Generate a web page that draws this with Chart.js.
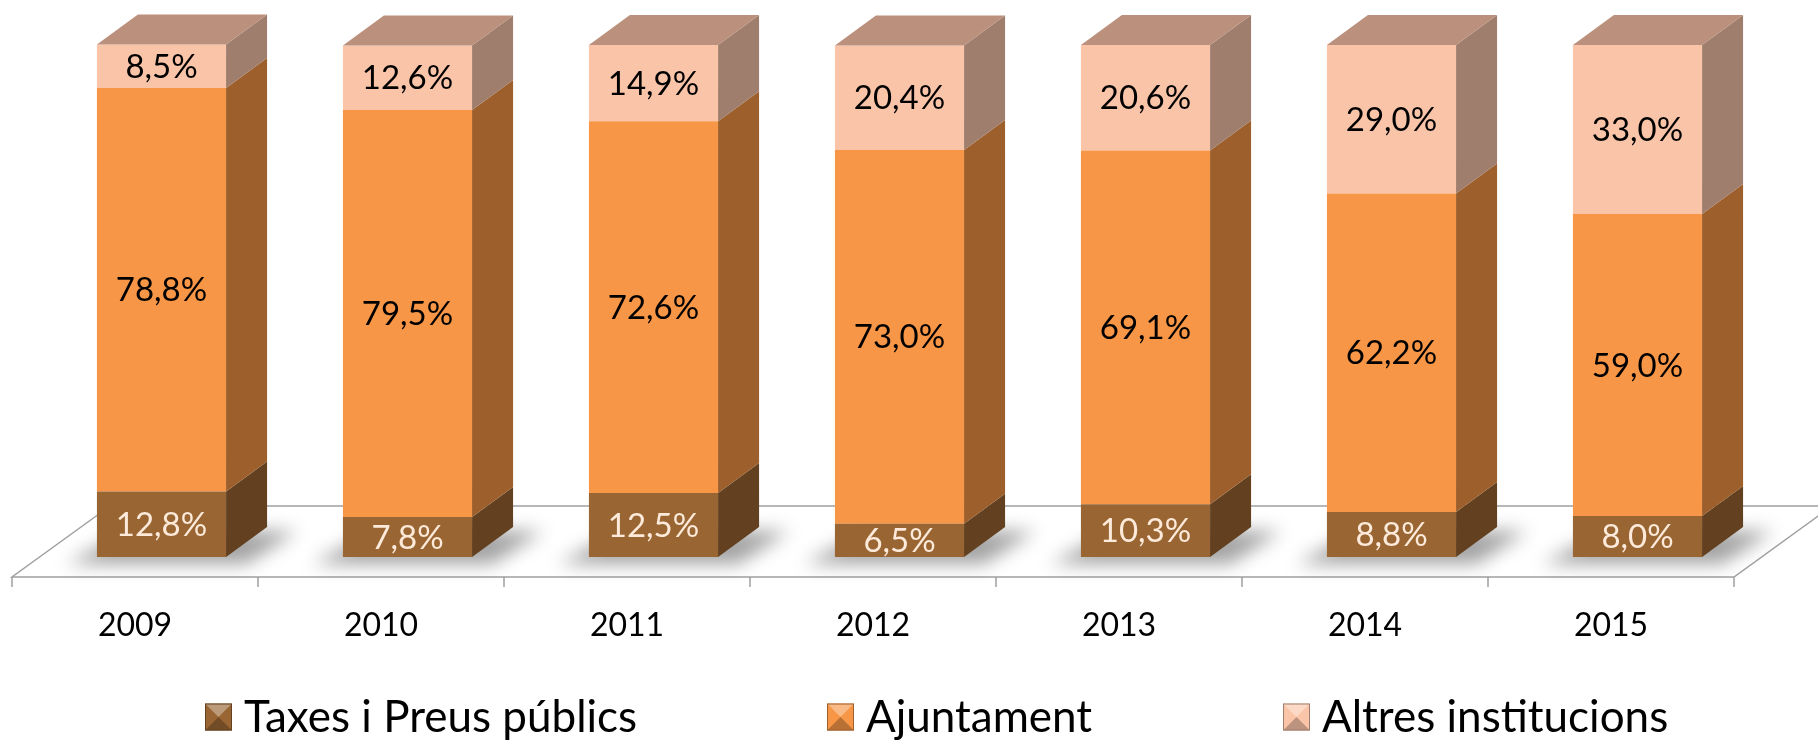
<!DOCTYPE html>
<html>
<head>
<meta charset="utf-8">
<script src="https://cdn.jsdelivr.net/npm/chart.js@4.4.1/dist/chart.umd.min.js"></script>
<style>
  html, body { margin: 0; padding: 0; background: #fff; }
  #wrap { width: 1818px; height: 740px; }
</style>
</head>
<body>
<div id="wrap"><canvas id="chart"></canvas></div>
<script>
const years = ["2009", "2010", "2011", "2012", "2013", "2014", "2015"];
const taxes = [12.8, 7.8, 12.5, 6.5, 10.3, 8.8, 8.0];
const ajuntament = [78.8, 79.5, 72.6, 73.0, 69.1, 62.2, 59.0];
const altres = [8.5, 12.6, 14.9, 20.4, 20.6, 29.0, 33.0];
const seriesNames = ["Taxes i Preus públics", "Ajuntament", "Altres institucions"];

const FONT = "Lato, 'Open Sans', sans-serif";
// oblique 3D look
const DEPTH_X = 41, DEPTH_Y = 30;
const FLOOR_FRONT = 20, FLOOR_DEPTH = 71, FLOOR_DX = 98;
const LABEL_SHIFT = 26.5;

const faces = [
  { front: "#996633", side: "#634120", top: "#7d5229", label: "#fdeada" },
  { front: "#f79646", side: "#9d5f2b", top: "#c47a3a", label: "#000000" },
  { front: "#fac4a9", side: "#a07e6d", top: "#bb907c", label: "#000000" }
];

function poly(ctx, pts) {
  ctx.beginPath();
  ctx.moveTo(pts[0][0], pts[0][1]);
  for (let i = 1; i < pts.length; i++) ctx.lineTo(pts[i][0], pts[i][1]);
  ctx.closePath();
  ctx.fill();
}

const floorPlugin = {
  id: "floor",
  beforeDatasetsDraw(chart) {
    const ctx = chart.ctx, xs = chart.scales.x, area = chart.chartArea;
    const left = xs.left - LABEL_SHIFT, right = xs.right - LABEL_SHIFT;
    const fy = area.bottom + FLOOR_FRONT, by = fy - FLOOR_DEPTH;
    ctx.save();
    ctx.strokeStyle = "#a0a0a0";
    ctx.lineWidth = 1.5;
    ctx.beginPath();
    ctx.moveTo(left + FLOOR_DX, by);
    ctx.lineTo(left, fy);
    ctx.lineTo(right, fy);
    ctx.lineTo(right + FLOOR_DX, by);
    ctx.moveTo(left + FLOOR_DX, by);
    ctx.lineTo(chart.width + 20, by);
    const step = (right - left) / years.length;
    for (let k = 0; k <= years.length; k++) {
      ctx.moveTo(left + k * step, fy);
      ctx.lineTo(left + k * step, fy + 10);
    }
    ctx.stroke();

    // soft shadows on the floor
    ctx.filter = "blur(9px)";
    ctx.fillStyle = "rgba(0,0,0,0.36)";
    chart.getDatasetMeta(0).data.forEach(el => {
      const xl = el.x - el.width / 2, xr = el.x + el.width / 2, b = el.base;
      poly(ctx, [[xl - 30, b + 7], [xl - 10 + DEPTH_X, b - DEPTH_Y + 4],
                 [xr + DEPTH_X + 30, b - DEPTH_Y + 4], [xr + 20, b + 7]]);
    });
    ctx.filter = "none";
    ctx.restore();
  }
};

const boxPlugin = {
  id: "box3d",
  afterDatasetsDraw(chart) {
    const ctx = chart.ctx;
    ctx.save();
    const last = chart.data.datasets.length - 1;
    chart.data.datasets.forEach((ds, i) => {
      const meta = chart.getDatasetMeta(i);
      meta.data.forEach(el => {
        const xl = el.x - el.width / 2, xr = el.x + el.width / 2;
        const yt = Math.min(el.y, el.base), yb = Math.max(el.y, el.base);
        ctx.fillStyle = faces[i].side;
        poly(ctx, [[xr, yb], [xr, yt], [xr + DEPTH_X, yt - DEPTH_Y], [xr + DEPTH_X, yb - DEPTH_Y]]);
        if (i === last) {
          ctx.fillStyle = faces[i].top;
          poly(ctx, [[xl, yt], [xl + DEPTH_X, yt - DEPTH_Y], [xr + DEPTH_X, yt - DEPTH_Y], [xr, yt]]);
        }
      });
    });
    // value labels
    ctx.font = "33px " + FONT;
    ctx.textAlign = "center";
    ctx.textBaseline = "middle";
    chart.data.datasets.forEach((ds, i) => {
      chart.getDatasetMeta(i).data.forEach((el, j) => {
        ctx.fillStyle = faces[i].label;
        const txt = ds.data[j].toFixed(1).replace(".", ",") + "%";
        ctx.fillText(txt, el.x, (el.y + el.base) / 2 + 1);
      });
    });
    ctx.restore();
  }
};

const legendPlugin = {
  id: "legend3d",
  afterDraw(chart) {
    const ctx = chart.ctx;
    const starts = [205, 827, 1283];
    const cy = 717, s = 27;
    ctx.save();
    ctx.font = "44px " + FONT;
    ctx.textBaseline = "middle";
    ctx.textAlign = "left";
    chart.data.datasets.forEach((ds, i) => {
      const x0 = starts[i], y0 = cy - s / 2, c = [x0 + s / 2, cy];
      ctx.fillStyle = faces[i].front;
      ctx.fillRect(x0, y0, s, s);
      ctx.fillStyle = "rgba(255,255,255,0.35)";
      poly(ctx, [[x0, y0], [x0 + s, y0], c]);
      ctx.fillStyle = "rgba(0,0,0,0.25)";
      poly(ctx, [[x0, y0 + s], [x0 + s, y0 + s], c]);
      ctx.strokeStyle = faces[i].side;
      ctx.lineWidth = 1;
      ctx.strokeRect(x0 + 0.5, y0 + 0.5, s - 1, s - 1);
      ctx.fillStyle = "#000";
      ctx.fillText(ds.label, x0 + s + 12, cy + 1);
    });
    ctx.restore();
  }
};

new Chart(document.getElementById("chart"), {
  type: "bar",
  data: {
    labels: years,
    datasets: [
      { label: seriesNames[0], data: taxes, backgroundColor: faces[0].front },
      { label: seriesNames[1], data: ajuntament, backgroundColor: faces[1].front },
      { label: seriesNames[2], data: altres, backgroundColor: faces[2].front }
    ]
  },
  options: {
    responsive: true,
    maintainAspectRatio: false,
    animation: false,
    layout: { padding: { left: 38.5, right: 57.5, top: 45, bottom: 0 } },
    datasets: { bar: { barPercentage: 0.525, categoryPercentage: 1, borderWidth: 0, clip: false } },
    plugins: { legend: { display: false }, tooltip: { enabled: false } },
    scales: {
      x: {
        stacked: true,
        grid: { display: false, drawTicks: false },
        border: { display: false },
        ticks: { color: "#000", font: { family: FONT, size: 32 }, padding: 49, labelOffset: -LABEL_SHIFT },
        afterFit(scale) { scale.height = 183; }
      },
      y: { stacked: true, display: false, min: 0, max: 100 }
    }
  },
  plugins: [floorPlugin, boxPlugin, legendPlugin]
});
</script>
</body>
</html>
